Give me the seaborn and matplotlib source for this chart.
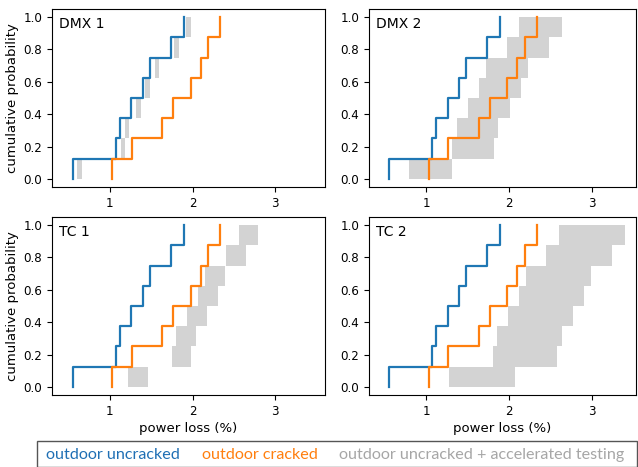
import numpy as np
import seaborn as sns
import matplotlib.pyplot as plt
from matplotlib.patches import Rectangle

# power loss (%) of the 8 modules, sorted
uncracked = [0.55, 1.07, 1.12, 1.26, 1.40, 1.48, 1.735, 1.89]
cracked = [1.03, 1.265, 1.635, 1.765, 1.98, 2.10, 2.19, 2.335]

panels = ['DMX 1', 'DMX 2', 'TC 1', 'TC 2']
# accelerated testing range per level (low / high)
acc_lo = {
    'DMX 1': [0.60, 1.13, 1.18, 1.315, 1.43, 1.54, 1.78, 1.92],
    'DMX 2': [0.795, 1.315, 1.37, 1.50, 1.64, 1.72, 1.97, 2.125],
    'TC 1': [1.22, 1.745, 1.795, 1.935, 2.065, 2.15, 2.40, 2.56],
    'TC 2': [1.275, 1.80, 1.85, 1.985, 2.12, 2.20, 2.445, 2.60],
}
acc_hi = {
    'DMX 1': [0.66, 1.185, 1.23, 1.37, 1.48, 1.59, 1.83, 1.975],
    'DMX 2': [1.31, 1.82, 1.87, 2.01, 2.145, 2.23, 2.48, 2.635],
    'TC 1': [1.465, 1.985, 2.04, 2.175, 2.305, 2.39, 2.64, 2.795],
    'TC 2': [2.07, 2.58, 2.635, 2.775, 2.905, 2.99, 3.24, 3.40],
}

blue = '#1f77b4'
orange = '#ff7f0e'
grey = '#d3d3d3'

n = len(uncracked)
levels = np.arange(n + 1) / n

W, H = 638, 467
fig = plt.figure(figsize=(W / 100, H / 100), dpi=100)

# axes boxes in pixels: left, right, top, bottom
boxes = [(52, 325, 9, 187), (369, 636, 9, 187),
         (52, 325, 217, 395), (369, 636, 217, 395)]
xlims = [(0.3, 3.6), (0.31, 3.53), (0.3, 3.6), (0.31, 3.53)]


def step(ax, x, color):
    xs = [x[0]] + list(x)
    sns.lineplot(x=xs, y=levels, drawstyle='steps-post', estimator=None,
                 sort=False, color=color, lw=1.6, ax=ax)


for i, name in enumerate(panels):
    l, r, t, b = boxes[i]
    ax = fig.add_axes([l / W, 1 - b / H, (r - l) / W, (b - t) / H])
    lo = np.array(acc_lo[name])
    hi = np.array(acc_hi[name])
    ax.barh(y=levels[:-1], width=hi - lo, left=lo, height=1 / n,
            align='edge', color=grey, linewidth=0)
    step(ax, uncracked, blue)
    step(ax, cracked, orange)
    ax.set_xlim(xlims[i])
    ax.set_ylim(-0.05, 1.05)
    ax.set_xticks([1, 2, 3])
    ax.set_yticks([0, 0.2, 0.4, 0.6, 0.8, 1.0])
    ax.tick_params(labelsize=8.6)
    ax.text(0.025, 0.955, name, transform=ax.transAxes, ha='left', va='top',
            fontsize=10)
    if i % 2 == 0:
        ax.set_ylabel('cumulative probability', fontsize=9.5, labelpad=3)
    if i >= 2:
        ax.set_xlabel('power loss (%)', fontsize=9.5, labelpad=3)

# legend box below the panels
fig.patches.append(Rectangle((37 / W, 0), 600 / W, 26 / H,
                             transform=fig.transFigure, fill=False,
                             edgecolor='#555555', lw=1))
ty = 1 - 455 / H
fig.text(46 / W, ty, 'outdoor uncracked', color='#1f6fb4',
         family='Lato', fontsize=11.6, va='center')
fig.text(202 / W, ty, 'outdoor cracked', color='#ff7f0e',
         family='Lato', fontsize=11.6, va='center')
fig.text(339 / W, ty, 'outdoor uncracked + accelerated testing',
         color='#a6a6a6', family='Lato', fontsize=11.6, va='center')

fig.savefig('out.png', dpi=100)
